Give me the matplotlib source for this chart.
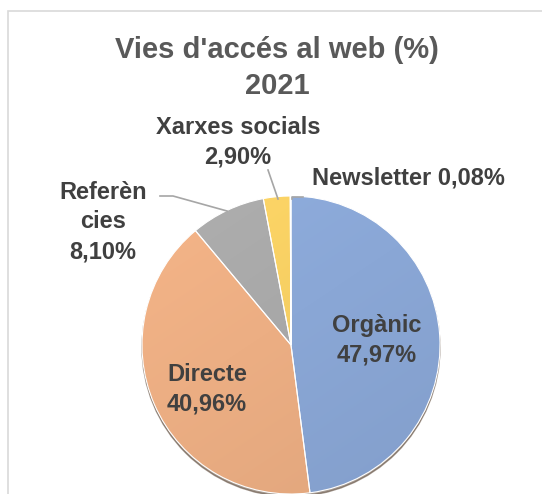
import matplotlib
matplotlib.use("Agg")
import matplotlib.pyplot as plt
import numpy as np
from matplotlib.patches import Rectangle, Circle
from matplotlib.colors import to_rgb

# ---- data ----
categories = ["Orgànic", "Directe", "Referències", "Xarxes socials", "Newsletter"]
values = [47.97, 40.96, 8.10, 2.90, 0.08]
title = "Vies d'accés al web (%)\n2021"

# ---- style ----
colors = ["#8AA7D6", "#ECAE83", "#A8A8A8", "#F6CF63", "#3D5E9C"]
W, H = 542, 494
fig = plt.figure(figsize=(W / 100, H / 100), dpi=100)
ax = fig.add_axes([0, 0, 1, 1])

def Y(py):
    return H - py

cx, cy, r = 291, 345, 149

# subtle shadow under the pie
ax.add_patch(Circle((cx, Y(cy) - 2.5), r, color="#5A4636", alpha=0.55, zorder=0.5))

wedges, _ = ax.pie(values, colors=colors, startangle=90, counterclock=False,
                   center=(cx, Y(cy)), radius=r, frame=True,
                   wedgeprops=dict(edgecolor="white", linewidth=0.8))

# gradient shading inside each wedge
yy = np.linspace(1, 0, 200)[:, None] * np.ones((1, 200))
xx = np.ones((200, 1)) * np.linspace(0, 1, 200)[None, :]
shade = 1.04 - 0.09 * (0.6 * (1 - yy) + 0.4 * xx)
for w, c in zip(wedges, colors):
    rgb = np.array(to_rgb(c))
    img = np.clip(shade[..., None] * rgb[None, None, :], 0, 1)
    im = ax.imshow(img, extent=(cx - r, cx + r, Y(cy) - r, Y(cy) + r),
                   origin="upper", zorder=w.get_zorder() + 0.1, interpolation="bilinear")
    im.set_clip_path(w)
    w.set_facecolor("none")
    w.set_zorder(w.get_zorder() + 0.2)

ax.set_xlim(0, W)
ax.set_ylim(0, H)
ax.set_aspect("equal")
ax.axis("off")

# frame
ax.add_patch(Rectangle((7.5, Y(600)), 700, 600 - 11.5, fill=False,
                       edgecolor="#D9D9D9", lw=1.2, zorder=0))

font = "Liberation Sans"
tcol = "#404040"
fs = 17

def pct(v):
    return f"{v:.2f}".replace(".", ",") + "%"

ax.text(277, Y(68), title, ha="center", va="center", fontsize=21,
        fontweight="bold", color="#595959", family=font, linespacing=1.32,
        zorder=5)

# label texts
disp = ["Orgànic", "Directe", "Referèn\ncies", "Xarxes socials", "Newsletter"]
pos = [(377, 340), (207, 389), (103, 222), (238, 142), (408, 178)]
seps = ["\n", "\n", "\n", "\n", " "]
for i, (name, v) in enumerate(zip(disp, values)):
    px, py = pos[i]
    ax.text(px, Y(py), name + seps[i] + pct(v), ha="center", va="center",
            fontsize=fs, fontweight="bold", color=tcol, family=font,
            linespacing=1.38, zorder=5)

# leader lines
lc = "#A6A6A6"
ax.plot([160, 173, 227], [Y(196), Y(196), Y(211)], color=lc, lw=1.2, zorder=4)
ax.plot([268, 278], [Y(170), Y(199)], color=lc, lw=1.2, zorder=4)
ax.plot([292, 292, 303], [Y(199), Y(197), Y(197)], color=lc, lw=1.2, zorder=4)

fig.savefig("out.png", dpi=100)
